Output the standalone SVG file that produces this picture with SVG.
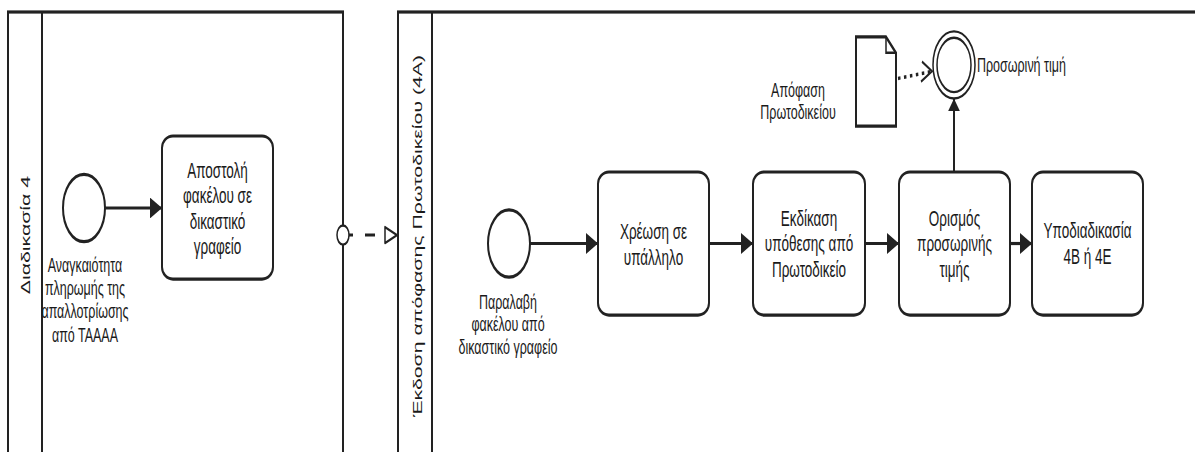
<svg xmlns="http://www.w3.org/2000/svg" width="1195" height="452" viewBox="0 0 1195 452">
  <style>
    .pool { fill: #fff; stroke: #222; stroke-width: 2; }
    .lane { stroke: #222; stroke-width: 2; fill: none; }
    .task { fill: #fff; stroke: #222; stroke-width: 2; }
    .event { fill: #fff; stroke: #222; stroke-width: 2; }
    .thin { fill: #fff; stroke: #222; stroke-width: 1.5; }
    .flow { stroke: #222; stroke-width: 2; fill: none; }
    .txt { font-family: "Liberation Sans", Arial, sans-serif; font-size: 13.5px; fill: #1a1a1a; text-anchor: middle; }
    .lbl { font-family: "Liberation Sans", Arial, sans-serif; font-size: 12.5px; fill: #1a1a1a; text-anchor: middle; }
    .pooltxt { font-family: "Liberation Sans", Arial, sans-serif; font-size: 13.3px; fill: #1a1a1a; text-anchor: middle; }
  </style>
  <defs>
    <marker id="arrow" markerUnits="userSpaceOnUse" markerWidth="12" markerHeight="13" refX="12" refY="6.5" orient="auto">
      <path d="M0,0 L12,6.5 L0,13 Z" fill="#222"/>
    </marker>
    <marker id="arrow-v" markerUnits="userSpaceOnUse" markerWidth="8" markerHeight="12" refX="8" refY="6" orient="auto">
      <path d="M0,0 L8,6 L0,12 Z" fill="#222"/>
    </marker>
  </defs>
  <rect width="1195" height="452" fill="#fff"/>
  <!-- drawing is laid out in a vertically stretched coordinate system -->
  <g transform="scale(1,1.6)">
    <!-- Pool: Διαδικασία 4 -->
    <g id="pool-1">
      <rect class="pool" x="8" y="7.5" width="335" height="290"/>
      <line class="lane" x1="42" y1="7.5" x2="42" y2="297.5"/>
      <text class="pooltxt" transform="translate(25.5,146.9) rotate(-90)" dy="0.35em">Διαδικασία 4</text>
    </g>
    <!-- Pool: Έκδοση απόφασης Πρωτοδικείου (4Α) -->
    <g id="pool-2">
      <rect class="pool" x="398" y="7.5" width="820" height="290"/>
      <line class="lane" x1="432" y1="7.5" x2="432" y2="297.5"/>
      <text class="pooltxt" transform="translate(417,147.5) rotate(-90)" dy="0.35em">Έκδοση απόφασης Πρωτοδικείου (4Α)</text>
    </g>

    <!-- Connectors -->
    <g id="connectors">
      <line class="flow" x1="105" y1="130" x2="162" y2="130" marker-end="url(#arrow)"/>
      <line class="flow" x1="530" y1="152.2" x2="598" y2="152.2" marker-end="url(#arrow)"/>
      <line class="flow" x1="709" y1="152.2" x2="753" y2="152.2" marker-end="url(#arrow)"/>
      <line class="flow" x1="865" y1="152.2" x2="899" y2="152.2" marker-end="url(#arrow)"/>
      <line class="flow" x1="1010" y1="152.2" x2="1032" y2="152.2" marker-end="url(#arrow)"/>
      <line class="flow" x1="954" y1="107.5" x2="954" y2="61.6" marker-end="url(#arrow-v)"/>
      <!-- message flow between pools -->
      <line x1="343" y1="146.9" x2="385" y2="146.9" stroke="#222" stroke-width="1.8" stroke-dasharray="10,12"/>
      <circle class="thin" cx="343" cy="146.9" r="6"/>
      <path class="thin" d="M385,141.9 L397,146.9 L385,151.9 Z" stroke-linejoin="round"/>
      <!-- data association -->
      <line x1="898" y1="49" x2="930" y2="44.8" stroke="#222" stroke-width="2.2" stroke-dasharray="2.5,3.5"/>
      <polyline points="922,38.5 932,44.5 921,51" fill="none" stroke="#222" stroke-width="1.5"/>
    </g>

    <!-- Start event: Αναγκαιότητα πληρωμής -->
    <g id="start-1">
      <circle class="event" cx="84" cy="130" r="21"/>
      <rect x="43" y="159.5" width="84" height="59" fill="#fff"/>
      <text class="lbl" x="85" y="170">Αναγκαιότητα</text>
      <text class="lbl" x="85" y="184.5">πληρωμής της</text>
      <text class="lbl" x="85" y="199">απαλλοτρίωσης</text>
      <text class="lbl" x="85" y="213.5">από ΤΑΑΑΑ</text>
    </g>

    <!-- Task: Αποστολή φακέλου -->
    <g id="task-send">
      <rect class="task" x="162" y="85" width="111" height="89.4" rx="11" ry="7.5"/>
      <text class="txt" x="217.5" y="111">Αποστολή</text>
      <text class="txt" x="217.5" y="127">φακέλου σε</text>
      <text class="txt" x="217.5" y="143">δικαστικό</text>
      <text class="txt" x="217.5" y="159">γραφείο</text>
    </g>

    <!-- Start event: Παραλαβή φακέλου -->
    <g id="start-2">
      <circle class="event" cx="509" cy="152.2" r="21"/>
      <text class="lbl" x="508" y="193">Παραλαβή</text>
      <text class="lbl" x="508" y="207">φακέλου από</text>
      <text class="lbl" x="508" y="221">δικαστικό γραφείο</text>
    </g>

    <!-- Task: Χρέωση σε υπάλληλο -->
    <g id="task-assign">
      <rect class="task" x="598" y="107.5" width="111" height="89.4" rx="11" ry="7.5"/>
      <text class="txt" x="653.5" y="149.5">Χρέωση σε</text>
      <text class="txt" x="653.5" y="165.5">υπάλληλο</text>
    </g>

    <!-- Task: Εκδίκαση υπόθεσης -->
    <g id="task-hearing">
      <rect class="task" x="753" y="107.5" width="112" height="89.4" rx="11" ry="7.5"/>
      <text class="txt" x="809" y="141">Εκδίκαση</text>
      <text class="txt" x="809" y="157">υπόθεσης από</text>
      <text class="txt" x="809" y="173">Πρωτοδικείο</text>
    </g>

    <!-- Task: Ορισμός προσωρινής τιμής -->
    <g id="task-price">
      <rect class="task" x="899" y="107.5" width="111" height="89.4" rx="11" ry="7.5"/>
      <text class="txt" x="954.5" y="141">Ορισμός</text>
      <text class="txt" x="954.5" y="157">προσωρινής</text>
      <text class="txt" x="954.5" y="173">τιμής</text>
    </g>

    <!-- Task: Υποδιαδικασία -->
    <g id="task-sub">
      <rect class="task" x="1032" y="107.5" width="111" height="89.4" rx="11" ry="7.5"/>
      <text class="txt" x="1087.5" y="149">Υποδιαδικασία</text>
      <text class="txt" x="1087.5" y="165">4Β ή 4Ε</text>
    </g>

    <!-- Intermediate event: Προσωρινή τιμή -->
    <g id="event-price">
      <circle class="thin" cx="954" cy="40.6" r="21"/>
      <circle class="thin" cx="954" cy="40.6" r="17"/>
      <text class="lbl" x="977" y="45" style="text-anchor:start">Προσωρινή τιμή</text>
    </g>

    <!-- Data object: Απόφαση Πρωτοδικείου -->
    <g id="data-decision">
      <path class="task" d="M856,23.1 L886,23.1 L896,33 L896,78.8 L856,78.8 Z" stroke-linejoin="miter"/>
      <path d="M886,23.1 L886,33 L896,33" fill="none" stroke="#222" stroke-width="1.5"/>
      <text class="lbl" x="798" y="60.5">Απόφαση</text>
      <text class="lbl" x="798" y="74.5">Πρωτοδικείου</text>
    </g>
  </g>
</svg>
